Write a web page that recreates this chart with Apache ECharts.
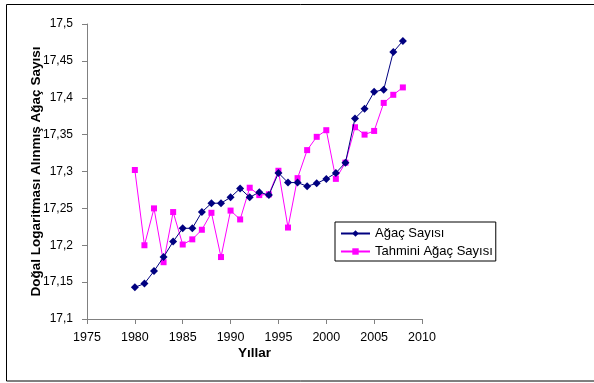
<!DOCTYPE html>
<html>
<head>
<meta charset="utf-8">
<script src="https://cdn.jsdelivr.net/npm/echarts@6/dist/echarts.min.js"></script>
<style>
  html, body { margin: 0; padding: 0; background: #fff; }
  #chart { width: 594px; height: 383px; }
</style>
</head>
<body>
<div id="chart"></div>
<script>
// yıllar ve değerler
const years = [1980, 1981, 1982, 1983, 1984, 1985, 1986, 1987, 1988, 1989,
  1990, 1991, 1992, 1993, 1994, 1995, 1996, 1997, 1998, 1999,
  2000, 2001, 2002, 2003, 2004, 2005, 2006, 2007, 2008]
const agacSayisi = [17.143, 17.148, 17.165, 17.184, 17.205, 17.223, 17.223, 17.245, 17.257, 17.257,
  17.265, 17.277, 17.265, 17.272, 17.268, 17.298, 17.285, 17.285, 17.280, 17.284,
  17.290, 17.298, 17.312, 17.372, 17.385, 17.408, 17.411, 17.462, 17.477]
const tahminiAgacSayisi = [17.302, 17.200, 17.250, 17.177, 17.245, 17.201, 17.208, 17.221, 17.244, 17.184,
  17.247, 17.235, 17.278, 17.268, 17.269, 17.301, 17.224, 17.291, 17.329, 17.347,
  17.356, 17.290, 17.312, 17.360, 17.350, 17.355, 17.393, 17.404, 17.414]
const seriesNames = ['Ağaç Sayısı', 'Tahmini Ağaç Sayısı']

const font = 'Liberation Sans, Arial, sans-serif'
const pair = (xs, ys) => xs.map((x, i) => [x, ys[i]])

const myChart = echarts.init(document.getElementById('chart'))
const option = {
  animation: false,
  textStyle: { fontFamily: font },
  grid: { left: 87, top: 24, right: 172, bottom: 64 },
  graphic: [{
    type: 'rect',
    shape: { x: 6.5, y: 4.5, width: 620, height: 376.5 },
    style: { fill: null, stroke: '#000', lineWidth: 1 },
    silent: true
  }],
  legend: {
    orient: 'vertical',
    left: 335,
    top: 222,
    padding: [5, 3, 3, 5],
    itemGap: 5,
    itemWidth: 29,
    itemHeight: 8,
    borderColor: '#000',
    borderWidth: 1,
    borderRadius: 0,
    textStyle: { fontFamily: font, fontSize: 13, color: '#000' },
    data: seriesNames
  },
  xAxis: {
    type: 'value',
    min: 1975,
    max: 2010,
    interval: 5,
    name: 'Yıllar',
    nameLocation: 'middle',
    nameGap: 27,
    nameMoveOverlap: false,
    nameTextStyle: { fontFamily: font, fontSize: 13.5, fontWeight: 'bold', color: '#000' },
    axisLine: { lineStyle: { color: '#808080', width: 1 } },
    axisTick: { length: 5, lineStyle: { color: '#808080' } },
    axisLabel: { fontSize: 12.5, color: '#000', margin: 12, formatter: v => String(v) },
    splitLine: { show: false }
  },
  yAxis: {
    type: 'value',
    min: 17.1,
    max: 17.5,
    interval: 0.05,
    name: 'Doğal Logaritması Alınmış Ağaç Sayısı',
    nameLocation: 'middle',
    nameGap: 44,
    nameMoveOverlap: false,
    nameTextStyle: { fontFamily: font, fontSize: 13.5, fontWeight: 'bold', color: '#000' },
    axisLine: { show: true, lineStyle: { color: '#808080', width: 1 } },
    axisTick: { show: true, length: 5, lineStyle: { color: '#808080' } },
    axisLabel: {
      fontSize: 12,
      color: '#000',
      margin: 14,
      formatter: v => String(+v.toFixed(2)).replace('.', ',')
    },
    splitLine: { show: false }
  },
  series: [
    {
      name: seriesNames[0],
      type: 'line',
      data: pair(years, agacSayisi),
      symbol: 'diamond',
      symbolSize: 8,
      lineStyle: { color: '#000080', width: 1 },
      itemStyle: { color: '#000080' },
      z: 3
    },
    {
      name: seriesNames[1],
      type: 'line',
      data: pair(years, tahminiAgacSayisi),
      symbol: 'rect',
      symbolSize: 6,
      lineStyle: { color: '#ff00ff', width: 1 },
      itemStyle: { color: '#ff00ff' },
      z: 2
    }
  ]
}
myChart.setOption(option)
</script>
</body>
</html>
